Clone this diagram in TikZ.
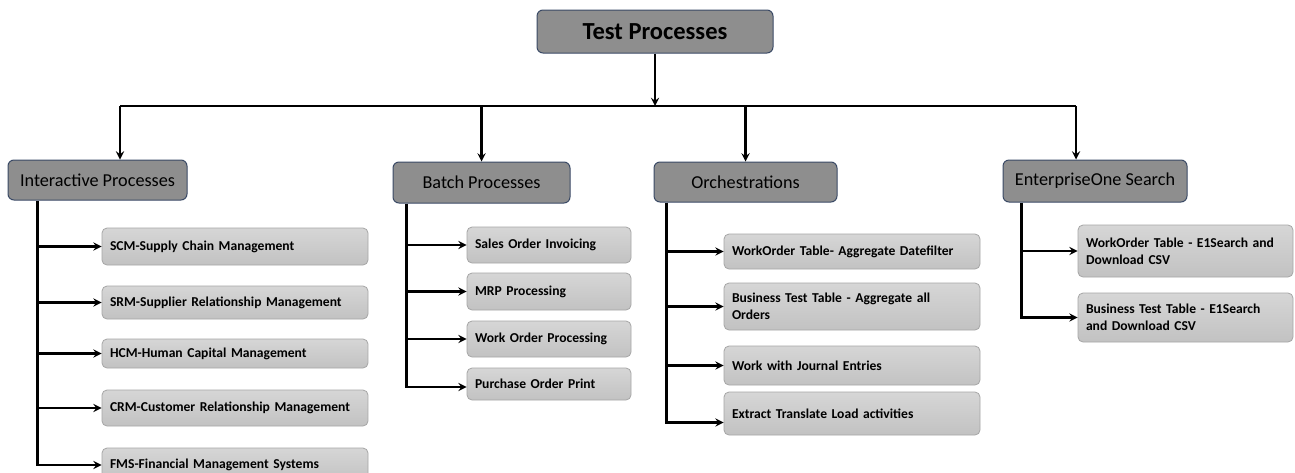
\documentclass[tikz,border=0pt]{standalone}
\usepackage{fontspec}
\setmainfont{Carlito}
\usepackage{xcolor}
\usepackage{tikz}
\usetikzlibrary{shapes,arrows,positioning,calc}

\definecolor{headfill}{HTML}{8E8E8E}
\definecolor{headline}{HTML}{3B4A66}
\definecolor{itemtop}{HTML}{D6D6D6}
\definecolor{itembot}{HTML}{C2C2C2}
\definecolor{itemline}{HTML}{A6A6A6}

\begin{document}
\begin{tikzpicture}[
      x=1pt, y=-1pt,
      root/.style={rectangle, draw=headline, fill=headfill, line width=1pt, rounded corners=6pt, minimum width=236pt, minimum height=43pt, font=\fontsize{24.5}{28}\selectfont\bfseries},
      group/.style={rectangle, draw=headline, fill=headfill, line width=1pt, rounded corners=6pt, minimum height=40pt, font=\fontsize{18.2}{21}\selectfont},
      item/.style={rectangle, draw=itemline, top color=itemtop, bottom color=itembot, line width=0.8pt, rounded corners=5pt, inner xsep=8pt, align=left, font=\fontsize{13.6}{17}\selectfont\bfseries},
      line/.style={line width=2.6pt},
      arrow/.style={->, >=stealth, line width=2.6pt}
    ]
      \path[use as bounding box, fill=white] (0,0) rectangle (1295,472);

      % Top: root
      \node[root] (tp) at (655,31.5) {Test Processes};

      % Groups
      \node[group, minimum width=179pt] (ip) at (97.5,180) {Interactive Processes};
      \node[group, minimum width=177pt, minimum height=41pt] (bp) at (481.5,182.5) {Batch Processes};
      \node[group, minimum width=183pt] (oc) at (745.5,182) {Orchestrations};
      \node[group, minimum width=184pt, minimum height=42pt] (es) at (1095,181) {EnterpriseOne Search};

      % Interactive items
      \node[item, text width=250pt, minimum height=37pt] (scm) at (235,246.5) {SCM-Supply Chain Management};
      \node[item, text width=250pt, minimum height=33pt] (srm) at (235,302.5) {SRM-Supplier Relationship Management};
      \node[item, text width=250pt, minimum height=29pt] (hcm) at (235,353.5) {HCM-Human Capital Management};
      \node[item, text width=250pt, minimum height=36pt] (crm) at (235,408) {CRM-Customer Relationship Management};
      \node[item, text width=250pt, minimum height=34pt] (fms) at (235,465) {FMS-Financial Management Systems};

      % Batch items
      \node[item, text width=148pt, minimum height=36pt] (soi) at (549,245) {Sales Order Invoicing};
      \node[item, text width=148pt, minimum height=37pt] (mrp) at (549,291.5) {MRP Processing};
      \node[item, text width=148pt, minimum height=36pt] (wop) at (549,339) {Work Order Processing};
      \node[item, text width=148pt, minimum height=32pt] (pop) at (549,384) {Purchase Order Print};

      % Orchestration items
      \node[item, text width=240pt, minimum height=35pt] (wtd) at (852,251.5) {WorkOrder Table- Aggregate Datefilter};
      \node[item, text width=240pt, minimum height=47pt] (bta) at (852,306.5) {Business Test Table - Aggregate all\\Orders};
      \node[item, text width=240pt, minimum height=39pt] (wje) at (852,365.5) {Work with Journal Entries};
      \node[item, text width=240pt, minimum height=43pt] (etl) at (852,413.5) {Extract Translate Load activities};

      % Search items
      \node[item, text width=199pt, minimum height=52pt] (wes) at (1185.5,251) {WorkOrder Table - E1Search and\\Download CSV};
      \node[item, text width=199pt, minimum height=49pt] (bes) at (1185.5,317.5) {Business Test Table - E1Search\\and Download CSV};

      % Bus from root to groups
      \coordinate (busL) at (120,106);
      \coordinate (busR) at (1076,106);
      \draw[line] (busL) -- (busR);
      \draw[arrow] (tp) -- (tp |- busL);
      \draw[arrow] (busL) -- (busL |- ip.north);
      \draw[arrow] (bp.north |- busL) -- (bp.north);
      \draw[arrow] (oc.north |- busL) -- (oc.north);
      \draw[arrow] (busR) -- (busR |- es.north);

      % Group to items
      \coordinate (ipv) at ([xshift=30pt]ip.south west);
      \coordinate (bpv) at ([xshift=14pt]bp.south west);
      \coordinate (ocv) at ([xshift=13pt]oc.south west);
      \coordinate (esv) at ([xshift=19pt]es.south west);

      \foreach \n in {scm,srm,hcm,crm}
        \draw[arrow] (ipv |- \n.west) -- (\n.west);
      \draw[arrow] (ipv) |- (fms.west);

      \foreach \n in {soi,mrp,wop}
        \draw[arrow] (bpv |- \n.west) -- (\n.west);
      \draw[arrow] (bpv) |- ([yshift=-3pt]pop.west);

      \foreach \n in {wtd,bta,wje}
        \draw[arrow] (ocv |- \n.west) -- (\n.west);
      \draw[arrow] (ocv) |- ([yshift=-9pt]etl.west);

      \draw[arrow] (esv |- wes.west) -- (wes.west);
      \draw[arrow] (esv) |- (bes.west);
    \end{tikzpicture}
\end{document}
